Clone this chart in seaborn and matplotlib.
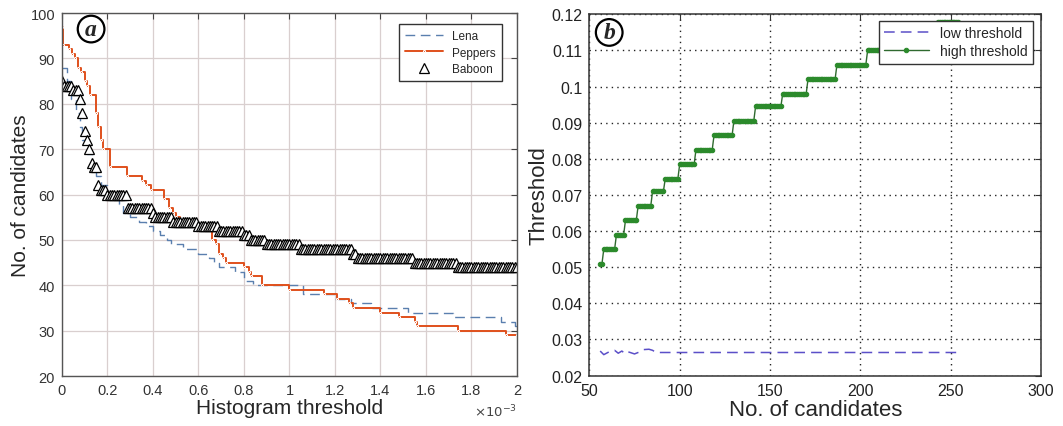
import numpy as np
import pandas as pd
import matplotlib
matplotlib.use("Agg")
import matplotlib.pyplot as plt
import seaborn as sns

# ---------------- data: panel (a) ----------------
# histogram threshold in units of 1e-3, step starts and the count from there on
lena_x = [0, 0.02, 0.04, 0.06, 0.08, 0.09, 0.11, 0.13, 0.15, 0.17, 0.2, 0.25, 0.27,
          0.3, 0.34, 0.37, 0.4, 0.43, 0.46, 0.48, 0.53, 0.6, 0.645, 0.67, 0.69, 0.76,
          0.8, 0.84, 1.06, 1.2, 1.27, 1.36, 1.52, 1.72, 1.93, 1.99, 2.0]
lena_y = [88, 85, 81, 78, 75, 72, 69, 66, 64, 62, 60, 58, 56,
          55, 54, 53, 52, 51, 50, 49, 48, 47, 46, 45, 44, 43,
          41, 40, 38, 37, 36, 35, 34, 33, 32, 31, 31]

peppers_x = [0, 0.006, 0.03, 0.045, 0.057, 0.07, 0.084, 0.1, 0.11, 0.123, 0.15, 0.16,
             0.17, 0.182, 0.21, 0.285, 0.35, 0.37, 0.39, 0.45, 0.47, 0.49, 0.5, 0.52,
             0.57, 0.6, 0.66, 0.675, 0.69, 0.71, 0.72, 0.8, 0.82, 0.83, 0.88, 1.0,
             1.15, 1.21, 1.26, 1.28, 1.4, 1.48, 1.55, 1.56, 1.74, 1.95, 2.0]
peppers_y = [97, 93, 92, 91, 90, 88, 87, 85, 84, 82, 78, 75,
             72, 70, 66, 64, 63, 62, 61, 59, 57, 56, 55, 54,
             53, 52, 50, 49, 47, 46, 45, 44, 43, 42, 40, 39,
             38, 37, 36, 35, 34, 33, 32, 31, 30, 29, 29]

# Baboon was evaluated on every 0.01e-3 of the sweep
sweep = np.round(np.arange(0, 2.0001, 0.01), 2)
baboon_start = [0, 0.01, 0.05, 0.08, 0.09, 0.10, 0.11, 0.12, 0.13, 0.14, 0.16, 0.17,
                0.20, 0.29, 0.40, 0.41, 0.49, 0.60, 0.69, 0.80, 0.83, 0.90, 1.05,
                1.28, 1.30, 1.55, 1.74]
baboon_level = [85, 84, 83, 81, 78, 74, 72, 70, 67, 66, 62, 61,
                60, 57, 56, 55, 54, 53, 52, 51, 50, 49, 48,
                47, 46, 45, 44]

# ---------------- data: panel (b) ----------------
candidates = np.arange(56, 255)
high_start = [56, 58, 65, 70, 77, 85, 92, 100, 109, 119, 130, 142, 157, 171, 187, 204, 224, 243]
high_level = [0.051, 0.055, 0.059, 0.063, 0.067, 0.071, 0.0745, 0.0785, 0.0825, 0.0865,
              0.0905, 0.0945, 0.098, 0.102, 0.106, 0.110, 0.114, 0.118]

low_x = [56, 58, 61, 64, 66, 68, 70, 72, 75, 78, 80, 83, 85, 87, 253]
low_y = [0.0268, 0.0258, 0.0266, 0.0270, 0.0262, 0.0268, 0.0260, 0.0265, 0.0260,
         0.0266, 0.0272, 0.0273, 0.0270, 0.0264, 0.0264]


def runs(starts, end, step):
    edges = list(starts) + [end]
    return np.round(np.diff(edges) / step).astype(int)


baboon_y = np.repeat(baboon_level, runs(baboon_start, 2.01, 0.01))
high_y = np.repeat(high_level, runs(high_start, 255, 1))

sns.set_style("white")
plt.rcParams["font.family"] = ["Liberation Sans", "DejaVu Sans"]

fig = plt.figure(figsize=(10.63, 4.27), dpi=100)
ax1 = fig.add_axes([0.0583, 0.117, 0.428, 0.850])
ax2 = fig.add_axes([0.5544, 0.118, 0.425, 0.846])

# ---------------- panel (a) ----------------
sns.lineplot(x=lena_x, y=lena_y, ax=ax1, color="#5a7fae", lw=1.0, ls=(0, (7, 4)),
             drawstyle="steps-post", label="Lena", estimator=None, sort=False)
sns.lineplot(x=peppers_x, y=peppers_y, ax=ax1, color="#e0501c", lw=1.4,
             drawstyle="steps-post", marker=".", markersize=3, label="Peppers",
             estimator=None, sort=False)
ax1.plot(sweep, baboon_y, ls="none", marker="^", markersize=6.5, mfc="white",
         mec="black", mew=0.9, label="Baboon")

ax1.set_xlim(0, 2)
ax1.set_ylim(20, 100)
ax1.set_xticks(np.arange(0, 2.01, 0.2))
ax1.set_xticklabels(["0", "0.2", "0.4", "0.6", "0.8", "1", "1.2", "1.4", "1.6", "1.8", "2"])
ax1.set_yticks(np.arange(20, 101, 10))
ax1.grid(True, color="#d9cfcf", lw=0.9)
ax1.set_axisbelow(True)
ax1.tick_params(direction="in", top=True, right=True, length=4, labelsize=10.5,
                colors="#444444", labelcolor="#333333", pad=5)
for s in ax1.spines.values():
    s.set_color("#555555")
    s.set_linewidth(1.0)
ax1.set_xlabel("Histogram threshold", fontsize=15, labelpad=1)
ax1.set_ylabel("No. of candidates", fontsize=15, labelpad=0)
ax1.text(1.0, -0.095, r"$\times10^{-3}$", transform=ax1.transAxes, ha="right",
         va="center", fontsize=9.5, color="#444444")
leg1 = ax1.legend(loc="upper right", bbox_to_anchor=(0.967, 0.970), fontsize=8.5,
                  fancybox=False, framealpha=1, edgecolor="#333333", borderaxespad=0,
                  handlelength=3.2, borderpad=0.5, labelspacing=0.4)
leg1.get_frame().set_linewidth(1.0)
ax1.text(0.064, 0.956, "a", transform=ax1.transAxes, ha="center", va="center",
         fontsize=17, fontweight="bold", fontstyle="italic",
         family=["Liberation Serif", "DejaVu Serif"],
         bbox=dict(boxstyle="circle,pad=0.12", fc="white", ec="black", lw=1.6))

# ---------------- panel (b) ----------------
sns.lineplot(x=low_x, y=low_y, ax=ax2, color="#5b4fc8", lw=1.1, ls=(0, (7, 4)),
             label="low threshold", estimator=None, sort=False)
sns.lineplot(x=candidates, y=high_y, ax=ax2, color="#2f6a2f", lw=1.0, marker="o",
             markersize=3.2, mfc="#2b8a2b", mec="#2b8a2b", label="high threshold",
             estimator=None, sort=False)

ax2.set_xlim(50, 300)
ax2.set_ylim(0.02, 0.12)
ax2.set_xticks(np.arange(50, 301, 50))
ax2.set_yticks(np.arange(0.02, 0.1201, 0.01))
ax2.set_yticklabels(["0.02", "0.03", "0.04", "0.05", "0.06", "0.07", "0.08", "0.09",
                     "0.1", "0.11", "0.12"])
ax2.grid(True, color="#222222", ls=(0, (1, 3)), lw=1.0)
ax2.set_axisbelow(True)
ax2.tick_params(direction="in", top=True, right=True, length=4, labelsize=11.5,
                colors="#333333", labelcolor="#222222", pad=5)
for s in ax2.spines.values():
    s.set_color("#333333")
    s.set_linewidth(1.1)
ax2.set_xlabel("No. of candidates", fontsize=16, labelpad=1)
ax2.set_ylabel("Threshold", fontsize=16, labelpad=1)
leg2 = ax2.legend(loc="upper right", bbox_to_anchor=(0.982, 0.983), fontsize=10,
                  fancybox=False, framealpha=1, edgecolor="#333333", borderaxespad=0,
                  handlelength=3.2, borderpad=0.4, labelspacing=0.3)
leg2.get_frame().set_linewidth(1.0)
ax2.text(0.044, 0.95, "b", transform=ax2.transAxes, ha="center", va="center",
         fontsize=17, fontweight="bold", fontstyle="italic",
         family=["Liberation Serif", "DejaVu Serif"],
         bbox=dict(boxstyle="circle,pad=0.12", fc="white", ec="black", lw=1.6))

plt.savefig("out.png", dpi=100)
plt.close()
